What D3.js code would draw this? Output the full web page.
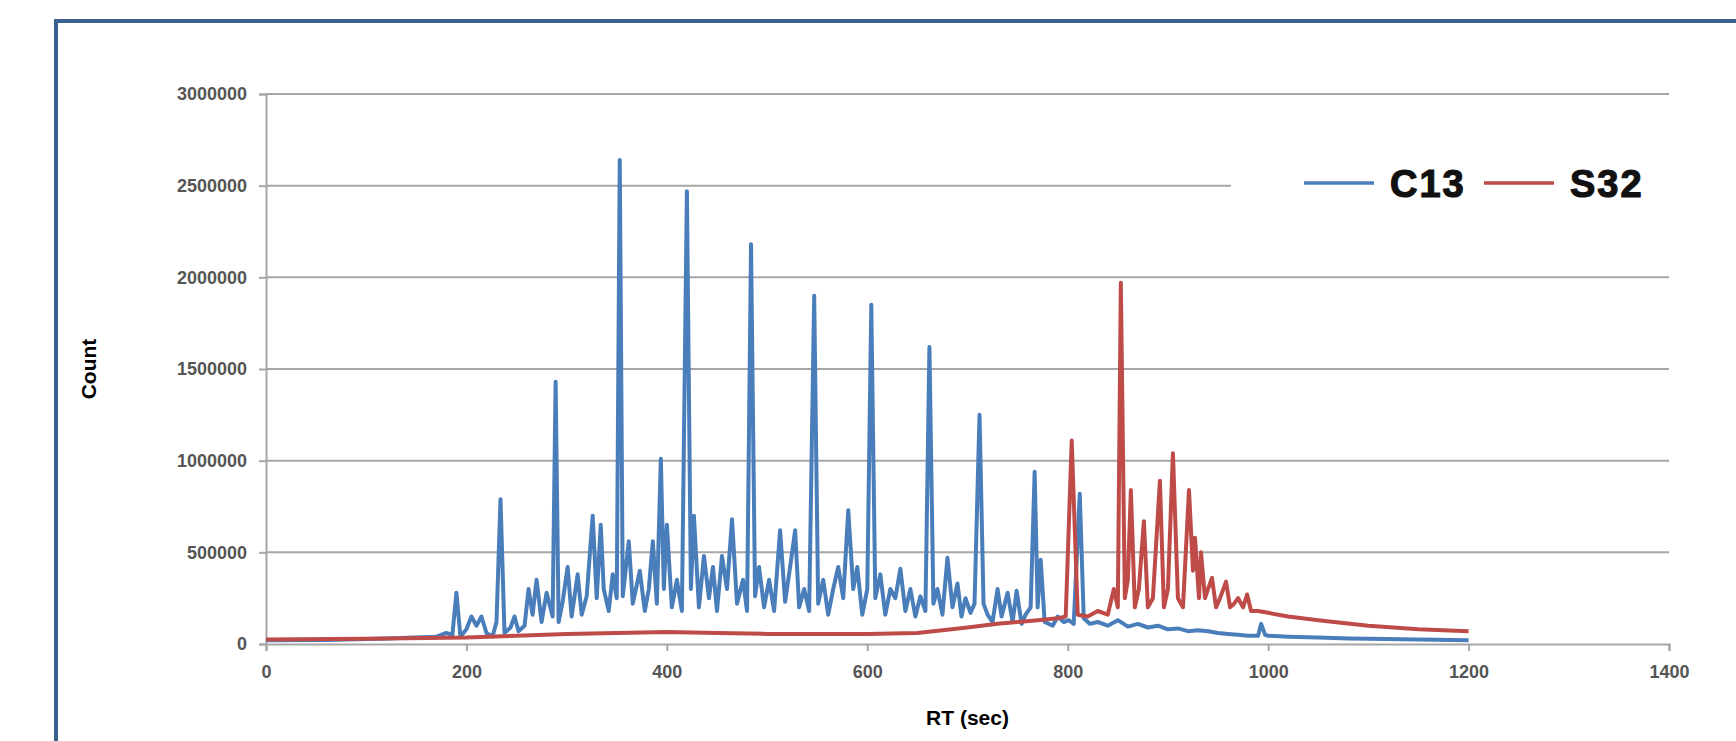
<!DOCTYPE html>
<html>
<head>
<meta charset="utf-8">
<script src="https://d3js.org/d3.v7.min.js"></script>
<style>
  body { margin: 0; background: #fff; }
  text { font-family: "Liberation Sans", Arial, sans-serif; }
</style>
</head>
<body>
<div id="chart"></div>
<script>
// [RT (sec), count]
var c13 = [
  [0,20000],[60,22000],[120,30000],[170,40000],[180,60000],[186,50000],[190,280000],[194,40000],
  [200,80000],[205,150000],[210,100000],[215,150000],[220,60000],[226,40000],[230,120000],[234,790000],
  [238,60000],[244,90000],[248,150000],[252,70000],[258,100000],[262,300000],[266,160000],[270,350000],
  [275,120000],[280,280000],[286,150000],[289,1430000],[292,120000],[296,230000],[301,420000],[305,150000],
  [311,380000],[315,160000],[320,260000],[326,700000],[330,250000],[334,650000],[337,300000],[342,180000],
  [346,380000],[350,250000],[353,2640000],[356,260000],[362,560000],[366,220000],[373,400000],[378,180000],
  [382,300000],[386,560000],[390,220000],[394,1010000],[397,300000],[400,650000],[405,200000],[410,350000],
  [415,180000],[420,2470000],[424,300000],[427,700000],[432,200000],[437,480000],[442,250000],[446,420000],
  [450,180000],[455,480000],[460,300000],[465,680000],[470,220000],[476,350000],[480,180000],[484,2180000],
  [488,260000],[492,420000],[497,200000],[502,350000],[507,180000],[513,620000],[518,230000],[523,420000],
  [528,620000],[532,200000],[537,300000],[542,180000],[547,1900000],[551,220000],[556,350000],[561,160000],
  [566,300000],[571,420000],[576,250000],[581,730000],[586,300000],[590,420000],[595,160000],[600,300000],
  [604,1850000],[608,250000],[613,380000],[618,160000],[623,300000],[628,250000],[633,410000],[638,180000],
  [643,300000],[648,150000],[653,260000],[658,180000],[662,1620000],[666,220000],[670,300000],[675,160000],
  [680,470000],[685,200000],[690,330000],[694,150000],[698,250000],[703,170000],[707,220000],[712,1250000],
  [716,220000],[720,160000],[725,120000],[730,300000],[734,150000],[740,280000],[745,120000],[749,290000],
  [754,110000],[758,160000],[763,200000],[767,940000],[770,200000],[773,460000],[777,120000],[785,100000],
  [790,150000],[796,120000],[801,130000],[806,110000],[812,820000],[816,140000],[822,110000],[830,120000],
  [840,100000],[850,130000],[860,95000],[870,110000],[880,90000],[890,100000],[900,80000],[910,85000],
  [920,70000],[930,75000],[940,70000],[950,60000],[960,55000],[970,50000],[980,45000],[990,45000],
  [993,110000],[997,50000],[1000,45000],[1020,40000],[1050,35000],[1080,30000],[1100,28000],[1150,25000],
  [1200,20000]
];

var s32 = [
  [0,25000],[100,28000],[200,35000],[250,45000],[300,55000],[350,60000],[400,65000],[450,60000],
  [500,55000],[550,55000],[600,55000],[650,60000],[700,90000],[730,110000],[750,120000],[770,130000],
  [790,140000],[798,150000],[804,1110000],[810,160000],[820,150000],[830,180000],[840,160000],[846,300000],
  [850,200000],[853,1970000],[857,250000],[860,350000],[863,840000],[867,200000],[871,300000],[876,670000],
  [880,200000],[885,250000],[892,890000],[896,200000],[900,300000],[905,1040000],[910,250000],[915,200000],
  [921,840000],[925,400000],[927,580000],[931,250000],[933,500000],[937,250000],[940,300000],[944,360000],
  [948,200000],[952,250000],[958,340000],[962,200000],[966,220000],[970,250000],[975,200000],[979,270000],
  [983,180000],[990,180000],[1000,170000],[1020,150000],[1050,130000],[1100,100000],[1150,80000],[1200,70000]
];

var yTicks = [0,500000,1000000,1500000,2000000,2500000,3000000];
var xTicks = [0,200,400,600,800,1000,1200,1400];
var seriesNames = ["C13","S32"];
var seriesColors = ["#4a7ebb","#be4b48"];

var W = 1736, H = 741;
var svg = d3.select("#chart").append("svg").attr("width", W).attr("height", H);

// outer frame
svg.append("rect").attr("x", 56).attr("y", 21).attr("width", 1700).attr("height", 760)
  .attr("fill", "none").attr("stroke", "#3b6190").attr("stroke-width", 4);

var x = d3.scaleLinear().domain([0,1400]).range([266,1669]);
var y = d3.scaleLinear().domain([0,3000000]).range([644,94]);

// gridlines
svg.append("g").selectAll("line").data(yTicks.slice(1)).join("line")
  .attr("x1", 266).attr("x2", function(d){ return d === 2500000 ? 1231 : 1669; })
  .attr("y1", d => y(d)).attr("y2", d => y(d))
  .attr("stroke", "#a6a6a6").attr("stroke-width", 2);

// y axis
var gy = svg.append("g").attr("transform", "translate(266,0)")
  .call(d3.axisLeft(y).tickValues(yTicks).tickSize(7).tickPadding(12).tickFormat(d3.format("d")));
gy.select(".domain").attr("stroke", "#a6a6a6").attr("stroke-width", 2);
gy.selectAll(".tick line").attr("stroke", "#a6a6a6").attr("stroke-width", 2);
gy.selectAll("text").attr("font-size", 18).attr("font-weight", "bold").attr("fill", "#555")
  .style("font-family", "'Liberation Sans', Arial, sans-serif");

// x axis
var gx = svg.append("g").attr("transform", "translate(0,644)")
  .call(d3.axisBottom(x).tickValues(xTicks).tickSize(7).tickPadding(14).tickFormat(d3.format("d")));
gx.select(".domain").attr("stroke", "#a6a6a6").attr("stroke-width", 2);
gx.selectAll(".tick line").attr("stroke", "#a6a6a6").attr("stroke-width", 2);
gx.selectAll("text").attr("font-size", 18).attr("font-weight", "bold").attr("fill", "#555")
  .style("font-family", "'Liberation Sans', Arial, sans-serif");

// lines
var line = d3.line().x(d => x(d[0])).y(d => y(d[1]));
[c13, s32].forEach(function(s, i) {
  svg.append("path").datum(s)
    .attr("fill", "none").attr("stroke", seriesColors[i]).attr("stroke-width", 4)
    .attr("stroke-linejoin", "round").attr("d", line);
});

// axis titles
svg.append("text").attr("x", x(700)).attr("y", 725).attr("text-anchor", "middle")
  .attr("font-size", 21).attr("font-weight", "bold").text("RT (sec)");
svg.append("text").attr("transform", "translate(96," + y(1500000) + ") rotate(-90)")
  .attr("text-anchor", "middle").attr("font-size", 21).attr("font-weight", "bold").text("Count");

// legend
var lx = [1304, 1484];
seriesNames.forEach(function(n, i) {
  svg.append("line").attr("x1", lx[i]).attr("x2", lx[i] + 70).attr("y1", 183).attr("y2", 183)
    .attr("stroke", seriesColors[i]).attr("stroke-width", 3.5);
  svg.append("text").attr("x", lx[i] + 86).attr("y", 197).attr("font-size", 38)
    .attr("font-weight", "bold").attr("fill", "#111").attr("stroke", "#111").attr("stroke-width", 1.2)
    .attr("letter-spacing", 2).text(n);
});
</script>
</body>
</html>
